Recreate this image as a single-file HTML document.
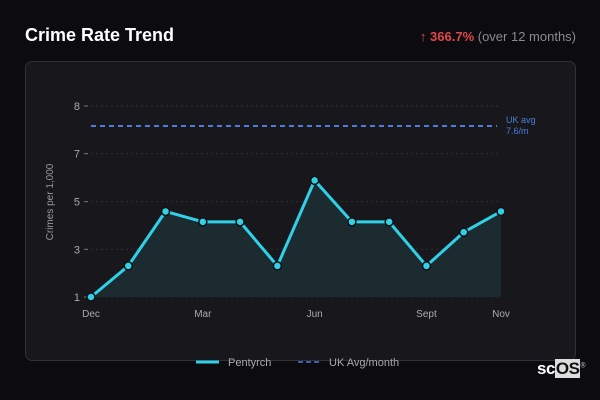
<!DOCTYPE html>
<html><head><meta charset="utf-8"><style>
body{margin:0;width:600px;height:400px;background:#0c0b10;font-family:"Liberation Sans","DejaVu Sans",sans-serif;overflow:hidden;position:relative}
.title{position:absolute;left:25px;top:25px;color:#fff;font-weight:bold;font-size:18px}
.change{position:absolute;right:24px;top:29px;font-size:13px;color:#8a8a90}
.change b{color:#e04848}
.card{position:absolute;left:25px;top:61px;width:549px;height:298px;background:#18181c;border:1px solid #303036;border-radius:7px}
svg{position:absolute;left:0;top:0}
.logo{position:absolute;left:537px;top:359px;color:#fff;font-weight:bold;font-size:17px;letter-spacing:-0.5px}
.logo span{background:#ddd;color:#111;padding:0 1px}
</style></head><body>
<div class="title">Crime Rate Trend</div>
<div class="change"><b>↑ 366.7%</b> (over 12 months)</div>
<div class="card"></div>
<svg id="chart" width="600" height="400"></svg>
<div class="logo">sc<span>OS</span><sup style="font-size:7px;color:#aaa">®</sup></div>
<script>
const categories=["Dec","Jan","Feb","Mar","Apr","May","Jun","Jul","Aug","Sept","Oct","Nov"];
const values=[1.0,2.2,4.3,3.9,3.9,2.2,5.5,3.9,3.9,2.2,3.5,4.3];
const ukAvg=7.6;
const yTickValues=[1,2.84,4.68,6.53,8.37];
const yTickLabels=["1","3","5","7","8"];
const xLabels=["Dec","Mar","Jun","Sept","Nov"];
const xLabelIdx=[0,3,6,9,11];

const NS="http://www.w3.org/2000/svg";
const svg=document.getElementById('chart');
const x0=91,x1=501,yMin=1,yMax=8.37,py0=297,py1=106;
const xs=i=>x0+(x1-x0)*i/(categories.length-1);
const ys=v=>py0-(v-yMin)/(yMax-yMin)*(py0-py1);
function mk(t,a){const e=document.createElementNS(NS,t);for(const k in a)e.setAttribute(k,a[k]);svg.appendChild(e);return e;}
yTickValues.forEach((v,i)=>{
  const y=ys(v);
  const g=mk('line',{x1:x0,x2:x1,y1:y,y2:y,stroke:'#2e2e34','stroke-dasharray':'2,3'});
  
  
  const tk=mk('line',{x1:84,x2:88,y1:y,y2:y,stroke:'#777'});
  
  
  const t=mk('text',{x:80,y:y+4,'text-anchor':'end',fill:'#aaa','font-size':'11'});
  t.textContent=yTickLabels[i];
  
  
});
xLabels.forEach((l,i)=>{
  const t=mk('text',{x:xs(xLabelIdx[i]),y:317,'text-anchor':'middle',fill:'#aaa','font-size':'10'});
  t.textContent=l;
  
  
});
const yt=mk('text',{x:0,y:0,transform:'translate(53,202) rotate(-90)','text-anchor':'middle',fill:'#999','font-size':'10'});
yt.textContent='Crimes per 1,000';


const uy=ys(ukAvg);
const ul=mk('line',{x1:x0,x2:x1-4,y1:uy,y2:uy,stroke:'#4a7fe0','stroke-width':2,'stroke-dasharray':'5,4'});


const ua=mk('text',{x:506,y:uy-3,fill:'#4a7fe0','font-size':'9'});ua.textContent='UK avg';


const ub=mk('text',{x:506,y:uy+8,fill:'#4a7fe0','font-size':'9'});ub.textContent=ukAvg+'/m';


let pts=values.map((v,i)=>xs(i)+','+ys(v)).join(' ');
const area=mk('polygon',{points:xs(0)+','+ys(yMin)+' '+pts+' '+xs(values.length-1)+','+ys(yMin),fill:'#1b2b30'});


const line=mk('polyline',{points:pts,fill:'none',stroke:'#2fd0e8','stroke-width':3,'stroke-linejoin':'round'});


values.forEach((v,i)=>{
  const c=mk('circle',{cx:xs(i),cy:ys(v),r:4,fill:'#2fd0e8',stroke:'#111',"stroke-width":1.5});
  
  
});
const l1=mk('line',{x1:196,x2:219,y1:362,y2:362,stroke:'#2fd0e8','stroke-width':3});


const t1=mk('text',{x:228,y:366,fill:'#aaa','font-size':'11'});t1.textContent='Pentyrch';


const l2=mk('line',{x1:298,x2:321,y1:362,y2:362,stroke:'#4a7fe0','stroke-width':1.5,'stroke-dasharray':'5,3'});


const t2=mk('text',{x:329,y:366,fill:'#aaa','font-size':'11'});t2.textContent='UK Avg/month';


</script>
</body></html>
